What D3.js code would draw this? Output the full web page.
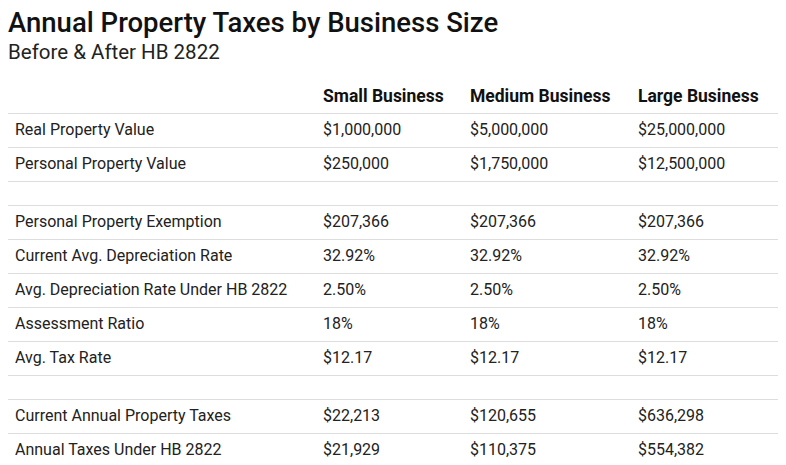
<!DOCTYPE html>
<html><head><meta charset="utf-8">
<script src="https://cdn.jsdelivr.net/npm/d3@7"></script>
<style>body{margin:0;background:#fff;font-family:Roboto,sans-serif}</style>
</head><body>
<script>
var columns = ["Small Business", "Medium Business", "Large Business"];
var rowLabels = ["Real Property Value", "Personal Property Value", null,
  "Personal Property Exemption", "Current Avg. Depreciation Rate", "Avg. Depreciation Rate Under HB 2822",
  "Assessment Ratio", "Avg. Tax Rate", null,
  "Current Annual Property Taxes", "Annual Taxes Under HB 2822"];
var small = ["$1,000,000", "$250,000", null, "$207,366", "32.92%", "2.50%", "18%", "$12.17", null, "$22,213", "$21,929"];
var medium = ["$5,000,000", "$1,750,000", null, "$207,366", "32.92%", "2.50%", "18%", "$12.17", null, "$120,655", "$110,375"];
var large = ["$25,000,000", "$12,500,000", null, "$207,366", "32.92%", "2.50%", "18%", "$12.17", null, "$636,298", "$554,382"];

var W = 786, H = 465;
var svg = d3.select("body").append("svg").attr("width", W).attr("height", H);
svg.append("text").attr("x", 8).attr("y", 32).attr("font-size", 27.5).attr("font-weight", 500).attr("fill", "#111").text("Annual Property Taxes by Business Size");
svg.append("text").attr("x", 8).attr("y", 59).attr("font-size", 20.5).attr("fill", "#222").text("Before & After HB 2822");

var colX = d3.scaleOrdinal().domain(columns).range([323, 470, 638]);
var values = [small, medium, large];

// row positions: data rows 34px, blank rows 24px
var y = 113, rows = [];
rowLabels.forEach(function (l, i) {
  var h = l === null ? 24 : 34;
  rows.push({i: i, label: l, top: y, h: h});
  y += h;
});

svg.selectAll(".hdr").data(columns).enter().append("text")
  .attr("x", function (d) { return colX(d); }).attr("y", 102)
  .attr("font-size", 17.5).attr("font-weight", 700).attr("fill", "#111").text(function (d) { return d; });

svg.append("line").attr("x1", 8).attr("x2", 778).attr("y1", 113.5).attr("y2", 113.5).attr("stroke", "#ddd");
var g = svg.selectAll(".row").data(rows).enter().append("g");
g.append("line").attr("x1", 8).attr("x2", 778)
  .attr("y1", function (d) { return d.top + d.h + 0.5; }).attr("y2", function (d) { return d.top + d.h + 0.5; })
  .attr("stroke", "#ddd");
g.filter(function (d) { return d.label; }).append("text").attr("x", 15)
  .attr("y", function (d) { return d.top + 22; }).attr("font-size", 16).attr("fill", "#222")
  .text(function (d) { return d.label; });
columns.forEach(function (c, k) {
  g.filter(function (d) { return d.label; }).append("text").attr("x", colX(c))
    .attr("y", function (d) { return d.top + 22; }).attr("font-size", 16).attr("fill", "#222")
    .text(function (d) { return values[k][d.i]; });
});
</script>
</body></html>
